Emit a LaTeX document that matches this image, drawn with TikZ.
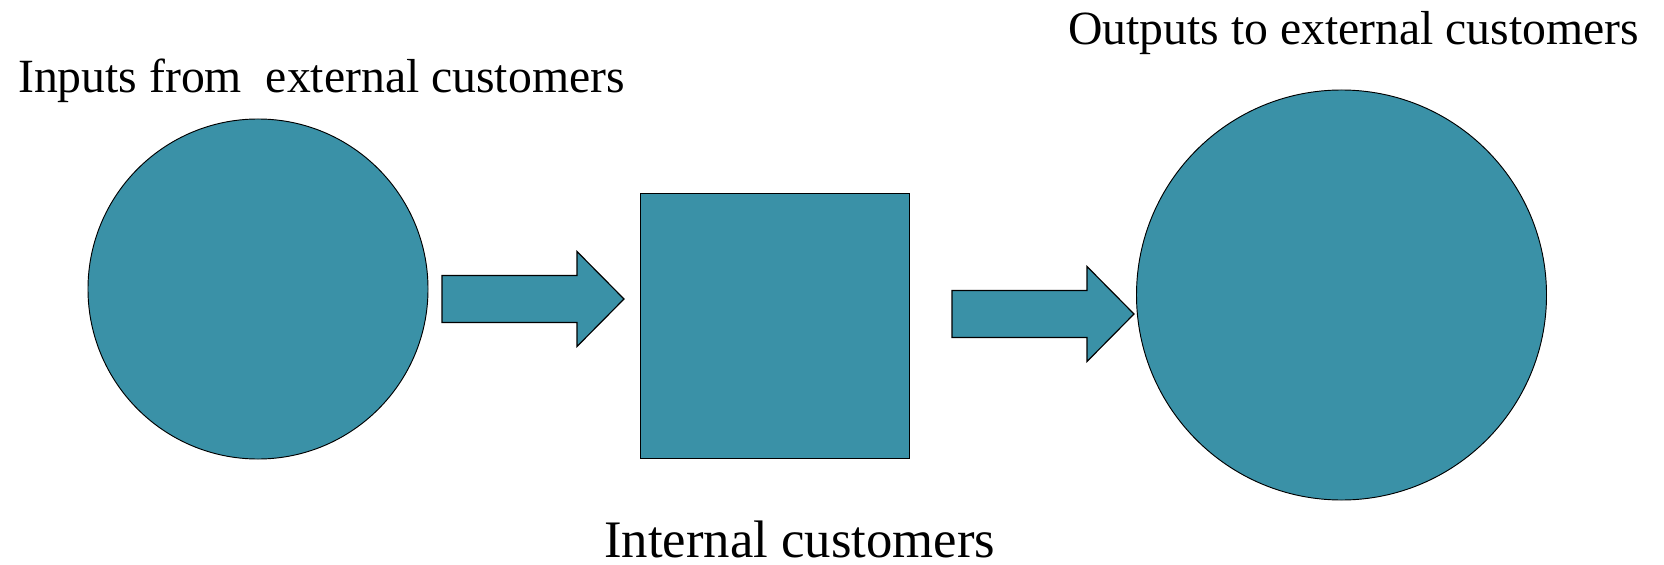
\documentclass[tikz,border=0pt]{standalone}
\usepackage{fontspec}
\setmainfont{Liberation Serif}
\usetikzlibrary{calc,positioning}
\definecolor{tealfill}{HTML}{3A91A7}
\newcommand{\blockarrow}[2]{%
  \draw[flowarrow] ($(#1)+(0,-23.5)$) -- ($(#2)+(-47,-23.5)$) -- ($(#2)+(-47,-47.5)$)
    -- (#2) -- ($(#2)+(-47,47.5)$) -- ($(#2)+(-47,23.5)$) -- ($(#1)+(0,23.5)$) -- cycle;}

\begin{document}
\begin{tikzpicture}[x=0.03cm,y=-0.03cm,
    shapefill/.style={draw=black,fill=tealfill,line width=0.8pt,inner sep=0pt},
    flowarrow/.style={draw=black,fill=tealfill,line width=1pt,line join=miter},
    caption/.style={font=\fontsize{40.7}{49}\selectfont,inner sep=0pt,anchor=base west}]
  \useasboundingbox (0,0) rectangle (1664,564);
  % shapes
  \node[shapefill,circle,minimum size=10.2cm] (inputs) at (258,289) {};
  \node[shapefill,rectangle,minimum width=8.07cm,minimum height=7.95cm] (internal) at (774.5,325.5) {};
  \node[shapefill,circle,minimum size=12.3cm] (outputs) at (1341.5,295) {};
  % arrows
  \coordinate (a1) at (442,299);
  \coordinate (b1) at (624,299);
  \coordinate (a2) at (952,314);
  \coordinate (b2) at (1134,314);
  \blockarrow{a1}{b1}
  \blockarrow{a2}{b2}
  % labels
  \node[caption] (lin) at (18,93) {Inputs from\ \ external customers};
  \node[caption] (lout) at (1068,45) {Outputs to external customers};
  \node[caption,font=\fontsize{45}{54}\selectfont] (lint) at (604,557) {Internal customers};
\end{tikzpicture}
\end{document}
